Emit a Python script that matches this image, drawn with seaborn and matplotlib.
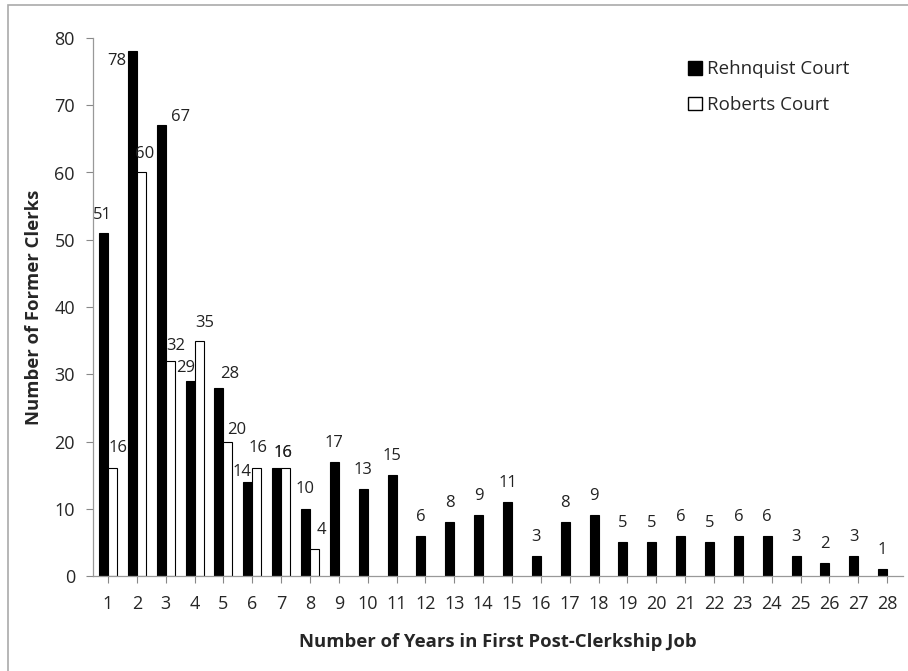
import numpy as np
import pandas as pd
import matplotlib
matplotlib.use('Agg')
import matplotlib.pyplot as plt
from matplotlib.patches import Rectangle, Patch
import seaborn as sns

# 数据
years = list(range(1, 29))
rehnquist = [51, 78, 67, 29, 28, 14, 16, 10, 17, 13, 15, 6, 8, 9, 11, 3, 8, 9,
             5, 5, 6, 5, 6, 6, 3, 2, 3, 1]
roberts = [16, 60, 32, 35, 20, 16, 16, 4]
series = ['Rehnquist Court', 'Roberts Court']

roberts_full = roberts + [np.nan] * (len(years) - len(roberts))
df = pd.DataFrame({
    'year': [str(y) for y in years] * 2,
    'count': rehnquist + roberts_full,
    'court': [series[0]] * len(years) + [series[1]] * len(years),
})

# 标签微调 (像素): 默认居中, 距柱顶 19px
nudge = [
    {0: (-1, 18), 1: (-16, -10), 2: (19, 8), 3: (-4, 13), 4: (11, 14),
     5: (-6, 10), 6: (6, 15), 7: (0, 20)},
    {0: (6, 20), 1: (3, 19), 2: (6, 15), 3: (6, 18), 4: (9, 12),
     5: (1, 20), 6: (-3, 15), 7: (7, 19)},
]

sns.set_style('white')
plt.rcParams['font.family'] = ['Open Sans', 'DejaVu Sans']

fig = plt.figure(figsize=(9.08, 6.71), dpi=100)
ax = fig.add_axes([93 / 908, 1 - 576 / 671, (903 - 93) / 908, (576 - 38) / 671])

sns.barplot(data=df, x='year', y='count', hue='court', hue_order=series,
            palette=['black', 'white'], edgecolor='black', linewidth=0.8,
            width=0.62, gap=0.0, ax=ax, legend=False)

px = 0.72  # 像素 -> 磅
for k, cont in enumerate(ax.containers):
    for i, (bar, v) in enumerate(zip(cont.patches, cont.datavalues)):
        if np.isnan(v):
            continue
        dx, dy = nudge[k].get(i, (0, 19))
        ax.annotate(f'{int(v)}', (bar.get_x() + bar.get_width() / 2, v),
                    xytext=(dx * px, dy * px), textcoords='offset points',
                    ha='center', va='center', fontsize=12, color='#222222')

ax.set_ylim(0, 80)
ax.set_xlim(-0.52, 27.55)
ax.set_yticks(range(0, 81, 10))
ax.tick_params(axis='both', length=5, width=0.8, color='#888888', direction='out',
               labelsize=13, bottom=True, left=True, pad=8)
ax.tick_params(axis='x', pad=9)
for s in ['top', 'right']:
    ax.spines[s].set_visible(False)
for s in ['left', 'bottom']:
    ax.spines[s].set_color('#999999')
    ax.spines[s].set_linewidth(0.9)

ax.set_xlabel('Number of Years in First Post-Clerkship Job', fontsize=13.3,
              fontweight='bold', labelpad=14)
ax.set_ylabel('Number of Former Clerks', fontsize=13.3, fontweight='bold',
              labelpad=8)

handles = [Patch(facecolor='black', edgecolor='black'),
           Patch(facecolor='white', edgecolor='black')]
ax.legend(handles, series, loc='upper right', bbox_to_anchor=(0.955, 0.99),
          frameon=False, fontsize=13.5, handlelength=0.75, handleheight=0.75,
          handletextpad=0.3, labelspacing=0.95)

fig.patches.append(Rectangle((8 / 908, -0.01), 1.0, 1 - 5 / 671 + 0.01,
                             transform=fig.transFigure, fill=False,
                             edgecolor='#aaaaaa', linewidth=1.2))

fig.savefig('out.png', dpi=100)
